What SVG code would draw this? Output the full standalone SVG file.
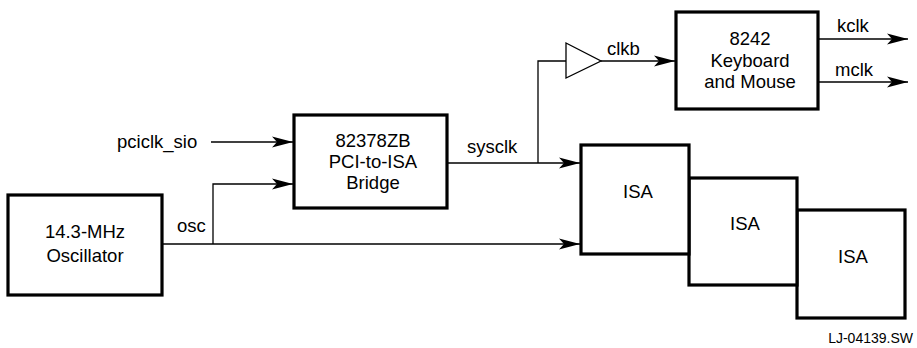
<svg xmlns="http://www.w3.org/2000/svg" width="917" height="348" viewBox="0 0 917 348">
<style>
text{font-family:"Liberation Sans",Arial,sans-serif;font-size:18.5px;fill:#000}
.lbl{text-anchor:middle}
.box{fill:#fff;stroke:#000;stroke-width:3.2}
.wire{fill:none;stroke:#000;stroke-width:1.3}
.small{font-size:14px}
</style>
<defs>
<marker id="ah" markerUnits="userSpaceOnUse" markerWidth="22" markerHeight="12" refX="21" refY="6" orient="auto">
<path d="M0,0.5 L21,6 L0,11.5 L5,6 Z" fill="#000"/>
</marker>
</defs>
<g id="connectors">
<line class="wire" x1="211" y1="142" x2="293" y2="142" marker-end="url(#ah)"/>
<path class="wire" d="M162,244 H580" marker-end="url(#ah)"/>
<path class="wire" d="M213,244 V184 H293" marker-end="url(#ah)"/>
<path class="wire" d="M447,163 H580" marker-end="url(#ah)"/>
<path class="wire" d="M538,163 V61 H566"/>
<path class="wire" d="M601,61 H675" marker-end="url(#ah)"/>
<path class="wire" d="M818,39 H908" marker-end="url(#ah)"/>
<path class="wire" d="M818,82 H908" marker-end="url(#ah)"/>
<text x="117" y="148">pciclk_sio</text>
<text x="177" y="232">osc</text>
<text x="467" y="153">sysclk</text>
<text x="607" y="55">clkb</text>
<text x="837" y="32">kclk</text>
<text x="835" y="76">mclk</text>
</g>
<g id="oscillator">
<rect class="box" x="8" y="195" width="154" height="100"/>
<text class="lbl" x="85" y="238">14.3-MHz</text>
<text class="lbl" x="85" y="262">Oscillator</text>
</g>
<g id="bridge">
<rect class="box" x="294" y="115" width="153" height="93"/>
<text class="lbl" x="373" y="147">82378ZB</text>
<text class="lbl" x="373" y="168">PCI-to-ISA</text>
<text class="lbl" x="373" y="189">Bridge</text>
</g>
<g id="buffer">
<polygon points="566,43 601,61 566,78" fill="#fff" stroke="#000" stroke-width="1.3"/>
</g>
<g id="keyboard">
<rect class="box" x="676" y="12" width="142" height="97"/>
<text class="lbl" x="750" y="45">8242</text>
<text class="lbl" x="750" y="67">Keyboard</text>
<text class="lbl" x="750" y="88">and Mouse</text>
</g>
<g id="isa3">
<rect class="box" x="797" y="210" width="108" height="108"/>
<text class="lbl" x="853" y="263">ISA</text>
</g>
<g id="isa2">
<rect class="box" x="689" y="178" width="108" height="107"/>
<text class="lbl" x="745" y="230">ISA</text>
</g>
<g id="isa1">
<rect class="box" x="581" y="145" width="108" height="109"/>
<text class="lbl" x="638" y="198">ISA</text>
</g>
<text class="small" x="913" y="343" text-anchor="end">LJ-04139.SW</text>
</svg>
